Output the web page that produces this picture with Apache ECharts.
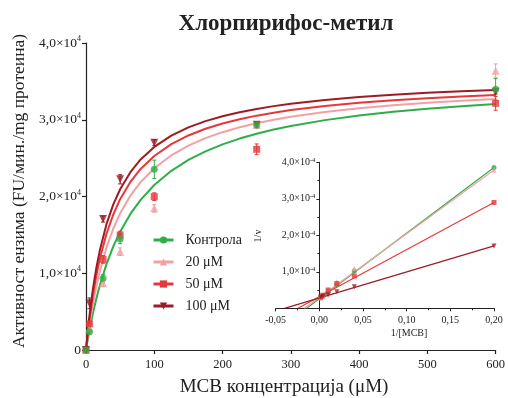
<!DOCTYPE html>
<html>
<head>
<meta charset="utf-8">
<script src="https://cdn.jsdelivr.net/npm/echarts@6/dist/echarts.min.js"></script>
<style>
  html, body { margin: 0; padding: 0; background: #fff; }
  #chart { width: 508px; height: 398px; }
</style>
</head>
<body>
<div id="chart"></div>
<script>
// ---- Series names and colours ----
const seriesNames = ['Контрола', '20 μM', '50 μM', '100 μM'];
const seriesColors = ['#2fae48', '#f3a0a4', '#e5383b', '#9c1b24'];
const seriesSymbols = ['circle', 'triangle', 'rect', 'triangle'];
const seriesRotate = [0, 0, 0, 180];

// ---- Measured activity (main plot) ----
const mcbConc = [0, 5, 25, 50, 100, 250, 600];
const actControl = [0, 2390, 9340, 14460, 23540, 29320, 33960];
const act20 = [0, 2800, 8700, 12810, 18460, 29300, 36400];
const act50 = [0, 3400, 11800, 14980, 19980, 26150, 32140];
const act100 = [0, 6080, 17070, 22240, 27010, 29350, 33650];

const errControl = [0, 300, 500, 600, 1200, 400, 1400];
const err20 = [0, 300, 400, 500, 500, 300, 870];
const err50 = [0, 300, 500, 500, 500, 700, 900];
const err100 = [0, 700, 400, 600, 400, 300, 300];

// ---- Fitted Michaelis–Menten curves (main plot) ----
const fitConc = [0, 2, 5, 10, 15, 20, 30, 40, 50, 65, 80, 100, 125, 150, 175, 200, 225, 250, 275, 300, 350, 400, 450, 500, 550, 600];
const fitControl = [0, 1056, 2528, 4720, 6639, 8333, 11188, 13501, 15412, 17729, 19568, 21500, 23345, 24761, 25883, 26793, 27546, 28180, 28721, 29187, 29952, 30553, 31036, 31435, 31768, 32050];
const fit20 = [0, 1377, 3253, 5958, 8243, 10199, 13371, 15834, 17802, 20108, 21879, 23688, 25366, 26623, 27599, 28381, 29019, 29551, 30000, 30387, 31013, 31500, 31890, 32208, 32473, 32698];
const fit50 = [0, 1680, 3921, 7061, 9632, 11776, 15148, 17678, 19648, 21900, 23591, 25282, 26820, 27953, 28824, 29513, 30073, 30535, 30925, 31256, 31794, 32209, 32538, 32808, 33031, 33219];
const fit100 = [0, 1905, 4410, 7856, 10621, 12890, 16393, 18970, 20945, 23173, 24823, 26455, 27924, 28999, 29817, 30462, 30985, 31413, 31775, 32083, 32577, 32959, 33261, 33508, 33712, 33884];

// ---- Lineweaver–Burk inset ----
const invConc = [0.2, 0.04, 0.02, 0.01, 0.004, 0.00167];
const invControl = [3.86e-4, 1.02e-4, 0.66e-4, 0.44e-4, 0.34e-4, 0.29e-4];
const inv20 = [3.79e-4, 1.10e-4, 0.73e-4, 0.52e-4, 0.34e-4, 0.28e-4];
const inv50 = [2.90e-4, 0.885e-4, 0.68e-4, 0.50e-4, 0.36e-4, 0.31e-4];
const inv100 = [1.71e-4, 0.59e-4, 0.455e-4, 0.365e-4, 0.33e-4, 0.30e-4];

// Regression lines: x-intercept (y = 0) and value at 1/[MCB] = 0.2
const lineStartX = [-0.0145, -0.017, -0.0246, -0.040];
const lineEndX = 0.2;
const lineEndY = [3.86e-4, 3.79e-4, 2.90e-4, 1.71e-4];

// Axis ticks
const mainXTicks = { min: 0, max: 600, step: 100 };
const mainYTicks = { min: 0, max: 40000, step: 10000 };
const insetXTicks = { min: -0.05, max: 0.2, step: 0.05 };
const insetYTicks = { min: 0, max: 4e-4, step: 1e-4 };

const FONT = '"Liberation Serif", "Times New Roman", serif';
const INK = '#222';

const actData = [actControl, act20, act50, act100];
const errData = [errControl, err20, err50, err100];
const fitData = [fitControl, fit20, fit50, fit100];
const invData = [invControl, inv20, inv50, inv100];

const zip = (xs, ys) => xs.map((x, i) => [x, ys[i]]);

function errorBars(name, xs, ys, errs, color, xi, yi, cap) {
  return {
    type: 'custom',
    name: name,
    xAxisIndex: xi,
    yAxisIndex: yi,
    encode: { x: 0, y: 1 },
    z: 3,
    silent: true,
    data: xs.map((x, i) => [x, ys[i], errs[i]]),
    renderItem: function (params, api) {
      const x = api.value(0), y = api.value(1), e = api.value(2);
      if (!e) return null;
      const top = api.coord([x, y + e]);
      const bot = api.coord([x, y - e]);
      const st = { stroke: color, lineWidth: 1 };
      return {
        type: 'group',
        children: [
          { type: 'line', shape: { x1: top[0], y1: top[1], x2: bot[0], y2: bot[1] }, style: st },
          { type: 'line', shape: { x1: top[0] - cap, y1: top[1], x2: top[0] + cap, y2: top[1] }, style: st },
          { type: 'line', shape: { x1: bot[0] - cap, y1: bot[1], x2: bot[0] + cap, y2: bot[1] }, style: st }
        ]
      };
    }
  };
}

const series = [];
// Fitted curves first, so the legend takes its icon from them
seriesNames.forEach((name, i) => {
  series.push({
    type: 'line',
    name: name,
    xAxisIndex: 0, yAxisIndex: 0,
    data: zip(fitConc, fitData[i]),
    smooth: false,
    symbol: seriesSymbols[i],
    symbolRotate: seriesRotate[i],
    showSymbol: false,
    lineStyle: { color: seriesColors[i], width: 2, join: 'round' },
    itemStyle: { color: seriesColors[i] },
    z: 2
  });
});
// Error bars and measured points (control markers sit on top)
seriesNames.forEach((name, i) => {
  series.push(errorBars(name, mcbConc, actData[i], errData[i], seriesColors[i], 0, 0, 2));
  series.push({
    type: 'scatter',
    name: name,
    xAxisIndex: 0, yAxisIndex: 0,
    data: zip(mcbConc, actData[i]),
    symbol: seriesSymbols[i],
    symbolRotate: seriesRotate[i],
    symbolSize: seriesSymbols[i] === 'triangle' ? 8 : 7,
    itemStyle: { color: seriesColors[i] },
    z: i === 0 ? 5 : 4
  });
});
// Inset: regression lines and reciprocal points
seriesNames.forEach((name, i) => {
  series.push({
    type: 'line',
    name: name,
    xAxisIndex: 1, yAxisIndex: 1,
    data: [[lineStartX[i], 0], [lineEndX, lineEndY[i]]],
    showSymbol: false,
    lineStyle: { color: seriesColors[i], width: 1.2 },
    itemStyle: { color: seriesColors[i] },
    z: 2
  });
  series.push({
    type: 'scatter',
    name: name,
    xAxisIndex: 1, yAxisIndex: 1,
    data: zip(invConc, invData[i]),
    symbol: seriesSymbols[i],
    symbolRotate: seriesRotate[i],
    symbolSize: 5,
    itemStyle: { color: seriesColors[i] },
    z: 4
  });
});

const axisLineStyle = { color: INK, width: 1.2 };
const dec = (v, d) => v.toFixed(d).replace('.', ',');

// Inset plot box (pixels) and the position of 1/[MCB] = 0 inside it
const insetLeft = 275.7, insetRight = 494;
const insetZeroShift = (0 - insetXTicks.min) / (insetXTicks.max - insetXTicks.min) * (insetRight - insetLeft);

const option = {
  backgroundColor: '#fff',
  animation: false,
  title: {
    text: 'Хлорпирифос-метил',
    left: 281,
    top: 8,
    textAlign: 'center',
    textStyle: { fontFamily: FONT, fontSize: 23, fontWeight: 'bold', color: INK }
  },
  legend: {
    orient: 'vertical',
    left: 152,
    top: 233,
    padding: 0,
    itemWidth: 20,
    itemHeight: 9,
    itemGap: 8,
    data: seriesNames,
    lineStyle: { width: 3 },
    textStyle: { fontFamily: FONT, fontSize: 14, color: INK, lineHeight: 14, padding: [0, 0, 0, 7] }
  },
  grid: [
    { left: 86, right: 11, top: 43, bottom: 48 },
    { left: insetLeft, right: 508 - insetRight, top: 162.3, bottom: 89.7 }
  ],
  xAxis: [
    {
      gridIndex: 0, type: 'value',
      min: mainXTicks.min, max: mainXTicks.max, interval: mainXTicks.step,
      axisLine: { show: true, onZero: false, lineStyle: axisLineStyle },
      axisTick: { show: true, length: 4, lineStyle: axisLineStyle },
      axisLabel: { fontFamily: FONT, fontSize: 12.5, color: INK, margin: 8 },
      splitLine: { show: false }
    },
    {
      gridIndex: 1, type: 'value',
      min: insetXTicks.min, max: insetXTicks.max, interval: insetXTicks.step,
      axisLine: { show: true, onZero: false, lineStyle: { color: INK, width: 1 } },
      axisTick: { show: true, length: 3, lineStyle: { color: INK, width: 1 } },
      minorTick: { show: true, splitNumber: 2, length: 2, lineStyle: { color: INK, width: 1 } },
      axisLabel: { fontFamily: FONT, fontSize: 10, color: INK, margin: 7, formatter: v => dec(v, 2) },
      splitLine: { show: false }
    }
  ],
  yAxis: [
    {
      gridIndex: 0, type: 'value',
      min: mainYTicks.min, max: mainYTicks.max, interval: mainYTicks.step,
      axisLine: { show: true, onZero: false, lineStyle: axisLineStyle },
      axisTick: { show: true, length: 4, lineStyle: axisLineStyle },
      axisLabel: {
        margin: 5,
        formatter: v => v === 0 ? '{m|0}' : '{m|' + dec(v / 1e4, 1) + '×10}{e|4}',
        rich: {
          m: { fontFamily: FONT, fontSize: 13.5, color: INK, lineHeight: 16 },
          e: { fontFamily: FONT, fontSize: 8, color: INK, verticalAlign: 'top', lineHeight: 16 }
        }
      },
      splitLine: { show: false }
    },
    {
      gridIndex: 1, type: 'value',
      min: insetYTicks.min, max: insetYTicks.max, interval: insetYTicks.step,
      offset: -insetZeroShift,
      axisLine: { show: true, onZero: false, lineStyle: { color: INK, width: 1 } },
      axisTick: { show: true, length: 3, lineStyle: { color: INK, width: 1 } },
      minorTick: { show: true, splitNumber: 2, length: 2, lineStyle: { color: INK, width: 1 } },
      axisLabel: {
        margin: 4,
        formatter: v => v === 0 ? '' : '{m|' + dec(v * 1e4, 1) + '×10}{e|-4}',
        rich: {
          m: { fontFamily: FONT, fontSize: 10, color: INK, lineHeight: 12 },
          e: { fontFamily: FONT, fontSize: 6.5, color: INK, verticalAlign: 'top', lineHeight: 12 }
        }
      },
      splitLine: { show: false }
    }
  ],
  graphic: [
    {
      type: 'text', x: 284, y: 387,
      style: { text: 'MCB концентрација (μM)', fontFamily: FONT, fontSize: 19, fill: INK, align: 'center', verticalAlign: 'middle' }
    },
    {
      type: 'text', x: 19, y: 191, rotation: Math.PI / 2,
      style: { text: 'Активност ензима (FU/мин./mg протеина)', fontFamily: FONT, fontSize: 17.5, fill: INK, align: 'center', verticalAlign: 'middle' }
    },
    {
      type: 'text', x: 409, y: 333,
      style: { text: '1/[MCB]', fontFamily: FONT, fontSize: 10, fill: INK, align: 'center', verticalAlign: 'middle' }
    },
    {
      type: 'text', x: 258, y: 236, rotation: Math.PI / 2,
      style: { text: '1/v', fontFamily: FONT, fontSize: 10, fill: INK, align: 'center', verticalAlign: 'middle' }
    }
  ],
  series: series
};

const chart = echarts.init(document.getElementById('chart'), null, { renderer: 'canvas' });
chart.setOption(option);
</script>
</body>
</html>
